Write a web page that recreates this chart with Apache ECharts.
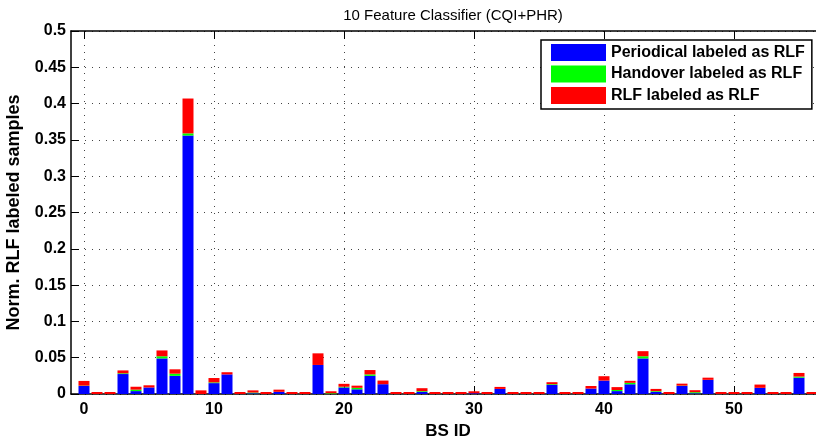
<!DOCTYPE html>
<html>
<head>
<meta charset="utf-8">
<script src="https://cdn.jsdelivr.net/npm/echarts@6/dist/echarts.min.js"></script>
<style>
  html, body { margin: 0; padding: 0; background: #fff; }
  #main { width: 816px; height: 442px; }
</style>
</head>
<body>
<div id="main"></div>
<script>
// BS IDs shown on the x axis
var bsIds = [0, 1, 2, 3, 4, 5, 6, 7, 8, 9, 10, 11, 12, 13, 14, 15, 16, 17, 18, 19,
  20, 21, 22, 23, 24, 25, 26, 27, 28, 29, 30, 31, 32, 33, 34, 35, 36, 37, 38, 39,
  40, 41, 42, 43, 44, 45, 46, 47, 48, 49, 50, 51, 52, 53, 54, 55, 56];

// Periodical labeled as RLF
var periodical = [0.011, 0, 0, 0.0275, 0.004, 0.009, 0.049, 0.025, 0.356, 0,
  0.015, 0.027, 0, 0.001, 0, 0.003, 0, 0, 0.040, 0,
  0.009, 0.0065, 0.025, 0.0135, 0, 0, 0.003, 0, 0, 0,
  0.001, 0, 0.007, 0, 0, 0, 0.0125, 0, 0, 0.0075,
  0.0185, 0.004, 0.0134, 0.049, 0.003, 0, 0.011, 0.001, 0.0195, 0,
  0, 0, 0.0085, 0, 0, 0.0225, 0];

// Handover labeled as RLF
var handover = [0.0005, 0, 0, 0.001, 0.002, 0, 0.003, 0.003, 0.003, 0,
  0.001, 0, 0, 0.001, 0, 0, 0, 0, 0, 0.001,
  0.001, 0.002, 0.002, 0, 0, 0, 0.001, 0, 0, 0,
  0, 0, 0, 0, 0, 0, 0.001, 0, 0, 0,
  0, 0.0015, 0.002, 0.003, 0.001, 0, 0.0005, 0.0015, 0, 0,
  0, 0, 0, 0, 0, 0.0015, 0];

// RLF labeled as RLF
var rlf = [0.0065, 0, 0, 0.004, 0.004, 0.003, 0.008, 0.006, 0.048, 0.005,
  0.006, 0.003, 0, 0.003, 0, 0.003, 0, 0, 0.016, 0.002,
  0.004, 0.003, 0.006, 0.005, 0, 0.002, 0.004, 0.002, 0, 0,
  0.001, 0, 0.0025, 0, 0, 0.002, 0.002, 0, 0, 0.0035,
  0.006, 0.004, 0.0026, 0.007, 0.003, 0, 0.0025, 0.002, 0.003, 0,
  0, 0.002, 0.0045, 0, 0, 0.005, 0];

// axis runs from -1 to 57, so pad the categories on both ends
var cats = ['-1'].concat(bsIds.map(String), ['57']);
function pad(arr) { return [null].concat(arr, [null]); }
function isMajor(i, v) { return Number(v) % 10 === 0 && Number(v) >= 0; }

var font = 'Liberation Sans';
var chart = echarts.init(document.getElementById('main'));
var option = {
  animation: false,
  title: {
    text: '10 Feature Classifier (CQI+PHR)',
    left: 448, top: 3, textAlign: 'center',
    textStyle: { fontFamily: font, fontSize: 15, fontWeight: 'normal', color: '#000' }
  },
  legend: {
    data: ['Periodical labeled as RLF', 'Handover labeled as RLF', 'RLF labeled as RLF'],
    orient: 'vertical',
    left: 541, top: 40,
    icon: 'rect',
    itemWidth: 55, itemHeight: 17, itemGap: 4.5,
    padding: [4, 7, 5, 10],
    borderColor: '#000', borderWidth: 1.5,
    backgroundColor: '#fff',
    textStyle: { fontFamily: font, fontSize: 16, fontWeight: 'bold', color: '#000' }
  },
  grid: { left: 71, top: 31, width: 754, height: 363, outerBoundsMode: 'none' },
  xAxis: [{
    type: 'category',
    data: cats,
    boundaryGap: false,
    name: 'BS ID',
    nameLocation: 'middle',
    nameGap: 29,
    nameTextStyle: { fontFamily: font, fontSize: 17, fontWeight: 'bold', color: '#000' },
    axisLine: { lineStyle: { color: '#000', width: 1.5 } },
    axisTick: { inside: true, length: 8, interval: isMajor, lineStyle: { color: '#000' } },
    axisLabel: { interval: isMajor, margin: 8, fontFamily: font, fontSize: 16, fontWeight: 'bold', color: '#000' },
    splitLine: { show: true, interval: isMajor, lineStyle: { color: '#444', type: [1, 6], width: 1 } }
  }, {
    type: 'category',
    data: cats,
    boundaryGap: false,
    position: 'top',
    axisLine: { lineStyle: { color: '#000', width: 1.5 } },
    axisTick: { inside: true, length: 8, interval: isMajor, lineStyle: { color: '#000' } },
    axisLabel: { show: false },
    splitLine: { show: false }
  }],
  yAxis: {
    type: 'value',
    min: 0, max: 0.5, interval: 0.05,
    name: 'Norm. RLF labeled samples',
    nameLocation: 'middle',
    nameGap: 48,
    nameTextStyle: { fontFamily: font, fontSize: 18, fontWeight: 'bold', color: '#000' },
    axisLine: { show: true, lineStyle: { color: '#000', width: 1.5 } },
    axisTick: { show: true, inside: true, length: 8, lineStyle: { color: '#000' } },
    axisLabel: {
      margin: 5, fontFamily: font, fontSize: 16, fontWeight: 'bold', color: '#000',
      formatter: function (v) { return String(Math.round(v * 100) / 100); }
    },
    splitLine: { show: true, lineStyle: { color: '#444', type: [1, 6], width: 1 } }
  },
  series: [
    {
      name: 'Periodical labeled as RLF', type: 'bar', stack: 'all',
      barWidth: 11, data: pad(periodical), itemStyle: { color: '#0000ff' }
    },
    {
      name: 'Handover labeled as RLF', type: 'bar', stack: 'all',
      barWidth: 11, data: pad(handover), itemStyle: { color: '#00ff00' }
    },
    {
      name: 'RLF labeled as RLF', type: 'bar', stack: 'all',
      barWidth: 11, barMinHeight: 2, data: pad(rlf), itemStyle: { color: '#ff0000' }
    }
  ]
};
chart.setOption(option);
</script>
</body>
</html>
